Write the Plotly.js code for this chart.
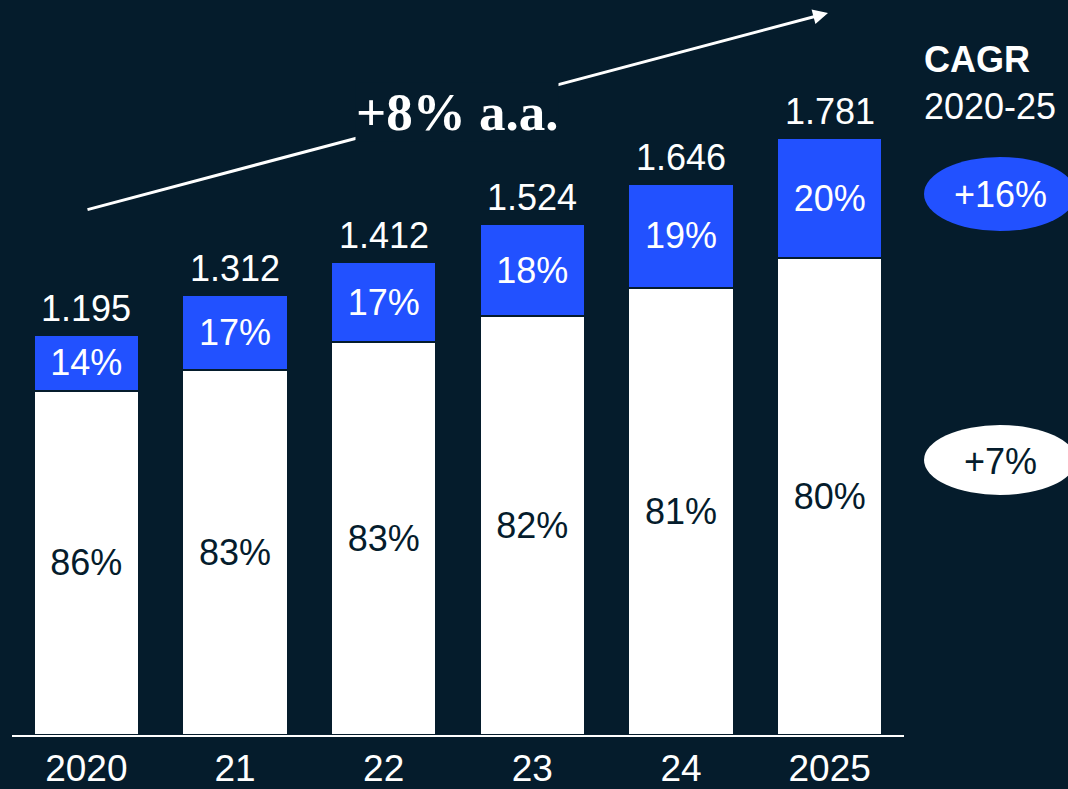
<!DOCTYPE html>
<html>
<head>
<meta charset="utf-8">
<script src="https://cdn.plot.ly/plotly-3.0.1.min.js"></script>
<style>html,body{margin:0;padding:0;background:#051c2c;}#chart{width:1068px;height:789px;}</style>
</head>
<body>
<div id="chart"></div>
<script>
const categories = ['2020', '21', '22', '23', '24', '2025'];
const totals = [1.195, 1.312, 1.412, 1.524, 1.646, 1.781];
const totalLabels = ['1.195', '1.312', '1.412', '1.524', '1.646', '1.781'];
const shareBlue = [14, 17, 17, 18, 19, 20];
const shareWhite = [86, 83, 83, 82, 81, 80];
const cagrLabels = ['+16%', '+7%'];

const BG = '#051c2c';
const BLUE = '#2251ff';
const FONT = '"Liberation Sans", Arial, sans-serif';
const FS = 36;

const idx = categories.map((c, i) => i);
const whiteVals = totals.map((t, i) => t * shareWhite[i] / 100);
const blueVals = totals.map((t, i) => t * shareBlue[i] / 100);

const W = 1068, H = 789;
const ml = 12, mr = 164, mt = 0, mb = 54;
const pw = W - ml - mr, ph = H - mt - mb;
const px = x => (x - ml) / pw;
const py = y => (H - mb - y) / ph;

const traces = [
  {
    type: 'bar', x: idx, y: whiteVals, width: 0.71,
    marker: {color: '#ffffff', line: {color: BG, width: 2}},
    text: shareWhite.map(v => v + '%'),
    textposition: 'inside', insidetextanchor: 'middle',
    textfont: {color: BG, size: FS, family: FONT},
    hoverinfo: 'none'
  },
  {
    type: 'bar', x: idx, y: blueVals, width: 0.71,
    marker: {color: BLUE, line: {color: BG, width: 2}},
    text: shareBlue.map(v => v + '%'),
    textposition: 'inside', insidetextanchor: 'middle',
    textfont: {color: '#ffffff', size: FS, family: FONT},
    hoverinfo: 'none'
  }
];

const annotations = totals.map((t, i) => ({
  x: i, y: t, xref: 'x', yref: 'y',
  text: totalLabels[i], showarrow: false,
  yanchor: 'bottom', yshift: 4,
  font: {color: '#ffffff', size: FS, family: FONT}
}));

// growth arrow
annotations.push({
  xref: 'paper', yref: 'paper', x: px(828), y: py(13),
  axref: 'pixel', ayref: 'pixel', ax: 86 - 828, ay: 210 - 13,
  text: '', showarrow: true, arrowhead: 2, arrowsize: 1, arrowwidth: 3,
  arrowcolor: '#ffffff'
});
annotations.push({
  xref: 'paper', yref: 'paper', x: px(457), y: py(112),
  text: '<b>+8% a.a.</b>', showarrow: false,
  xanchor: 'center', yanchor: 'middle', bgcolor: BG, borderpad: 0,
  font: {color: '#ffffff', size: 53, family: '"Liberation Serif", "Times New Roman", serif'}
});
// CAGR header
annotations.push({
  xref: 'paper', yref: 'paper', x: px(922), y: py(60),
  text: '<b>CAGR</b>', showarrow: false, xanchor: 'left', yanchor: 'middle',
  font: {color: '#ffffff', size: FS, family: FONT}
});
annotations.push({
  xref: 'paper', yref: 'paper', x: px(922), y: py(106),
  text: '2020-25', showarrow: false, xanchor: 'left', yanchor: 'middle',
  font: {color: '#ffffff', size: FS, family: FONT}
});
annotations.push({
  xref: 'paper', yref: 'paper', x: px(1000), y: py(195),
  text: cagrLabels[0], showarrow: false, xanchor: 'center', yanchor: 'middle',
  font: {color: '#ffffff', size: FS, family: FONT}
});
annotations.push({
  xref: 'paper', yref: 'paper', x: px(1000), y: py(461),
  text: cagrLabels[1], showarrow: false, xanchor: 'center', yanchor: 'middle',
  font: {color: BG, size: FS, family: FONT}
});

const shapes = [
  {type: 'circle', xref: 'paper', yref: 'paper', x0: px(924), x1: px(1076), y0: py(231), y1: py(157),
   fillcolor: BLUE, line: {width: 0}, layer: 'below'},
  {type: 'circle', xref: 'paper', yref: 'paper', x0: px(924), x1: px(1076), y0: py(495), y1: py(425),
   fillcolor: '#ffffff', line: {width: 0}, layer: 'below'}
];

const layout = {
  width: W, height: H,
  paper_bgcolor: BG, plot_bgcolor: BG,
  margin: {l: ml, r: mr, t: mt, b: mb, pad: 0},
  barmode: 'stack',
  showlegend: false,
  xaxis: {
    type: 'linear', range: [-0.5, categories.length - 0.5],
    tickmode: 'array', tickvals: idx, ticktext: categories,
    showline: true, linecolor: '#ffffff', linewidth: 2,
    ticks: '', showgrid: false, zeroline: false, automargin: false,
    tickfont: {color: '#ffffff', size: 37, family: FONT}
  },
  yaxis: {
    visible: false, range: [0, ph / 335], showgrid: false, zeroline: false, fixedrange: true
  },
  annotations: annotations,
  shapes: shapes,
  font: {family: FONT, color: '#ffffff'}
};

Plotly.newPlot('chart', traces, layout, {displayModeBar: false, staticPlot: true});
</script>
</body>
</html>
